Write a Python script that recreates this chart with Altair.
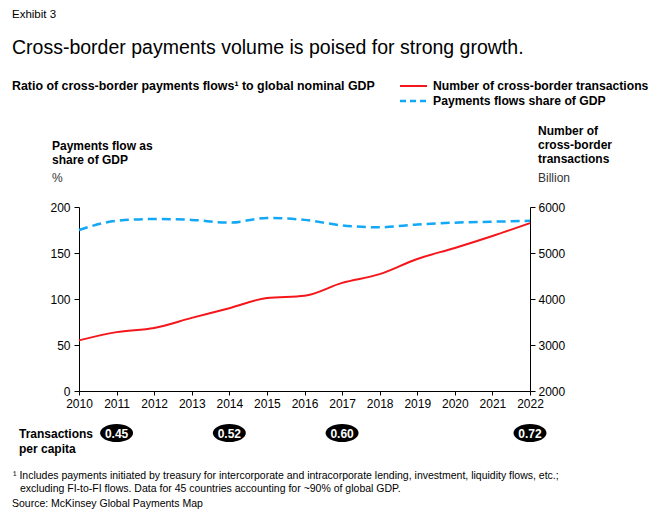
import altair as alt
import pandas as pd

years = list(range(2010, 2023))
share_gdp = [175, 185, 187, 186, 183, 188, 186, 180, 178, 181, 183, 184, 185]
transactions = [3100, 3280, 3370, 3590, 3800, 4020, 4070, 4350, 4540, 4870, 5110, 5370, 5650]

pill_years = [2011, 2014, 2017, 2022]
pill_values = ["0.45", "0.52", "0.60", "0.72"]

left_ticks = [0, 50, 100, 150, 200]
right_ticks = [2000, 3000, 4000, 5000, 6000]

FONT = "Liberation Sans"
RED = "#f5161b"
BLUE = "#12a8f5"

df = pd.DataFrame({"year": years, "share": share_gdp, "tx": transactions})
pills = pd.DataFrame({"year": pill_years, "label": pill_values})

W, H = 451, 184

x_enc = alt.X("year:Q", scale=alt.Scale(domain=[2010, 2022], nice=False),
              axis=alt.Axis(values=years, format="d", title=None, grid=False,
                            labelFontSize=12, labelColor="#000", tickColor="#000",
                            domainColor="#000", tickSize=4, labelPadding=3,
                            labelFont=FONT, labelFlush=False, labelOverlap=False))

blue = alt.Chart(df).mark_line(color=BLUE, strokeWidth=2.5, strokeDash=[9, 5],
                               interpolate="monotone").encode(
    x=x_enc,
    y=alt.Y("share:Q", scale=alt.Scale(domain=[0, 200], nice=False),
            axis=alt.Axis(values=left_ticks, title=None, grid=False, orient="left",
                          labelFontSize=12, labelColor="#000", tickColor="#000",
                          domainColor="#000", tickSize=5, labelPadding=4, labelFont=FONT))
)

red = alt.Chart(df).mark_line(color=RED, strokeWidth=2,
                              interpolate="monotone").encode(
    x=x_enc,
    y=alt.Y("tx:Q", scale=alt.Scale(domain=[2000, 6000], nice=False),
            axis=alt.Axis(values=right_ticks, format="d", title=None, grid=False, orient="right",
                          labelFontSize=12, labelColor="#000", tickColor="#000",
                          domainColor="#000", tickSize=5, labelPadding=3, labelFont=FONT))
)

ellipse = "M-1,0 A1,0.55 0 1,1 1,0 A1,0.55 0 1,1 -1,0 Z"
pill_shape = alt.Chart(pills).mark_point(shape=ellipse, filled=True, color="#000",
                                         opacity=1, size=33 * 33).encode(
    x=x_enc, y=alt.value(226))
pill_text = alt.Chart(pills).mark_text(color="#fff", fontSize=12, fontWeight="bold",
                                       font=FONT, baseline="middle").encode(
    x=x_enc, y=alt.value(226.5), text="label:N")


def txt(s, x, y, size=11, weight="normal", color="#000", align="left"):
    return alt.Chart(pd.DataFrame({"t": [s]})).mark_text(
        fontSize=size, fontWeight=weight, color=color, font=FONT,
        align=align, baseline="middle").encode(
        x=alt.value(x), y=alt.value(y), text="t:N")


OX, OY = 79, 207
texts = [
    txt("Exhibit 3", 12 - OX, 15 - OY, size=11.5),
    txt("Cross-border payments volume is poised for strong growth.", 12 - OX, 48 - OY, size=19.5),
    txt("Ratio of cross-border payments flows¹ to global nominal GDP", 12 - OX, 86 - OY,
        size=12.4, weight="bold"),
    txt("Number of cross-border transactions", 433 - OX, 86 - OY, size=12.2, weight="bold"),
    txt("Payments flows share of GDP", 433 - OX, 101 - OY, size=12.2, weight="bold"),
    txt("Payments flow as", 52 - OX, 146 - OY, size=12, weight="bold"),
    txt("share of GDP", 52 - OX, 160 - OY, size=12, weight="bold"),
    txt("%", 52 - OX, 178 - OY, size=12, color="#333"),
    txt("Number of", 538 - OX, 131 - OY, size=12, weight="bold"),
    txt("cross-border", 538 - OX, 145 - OY, size=12, weight="bold"),
    txt("transactions", 538 - OX, 159 - OY, size=12, weight="bold"),
    txt("Billion", 538 - OX, 178 - OY, size=12, color="#333"),
    txt("Transactions", 19 - OX, 434 - OY, size=12, weight="bold"),
    txt("per capita", 19 - OX, 449 - OY, size=12, weight="bold"),
    txt("¹ Includes payments initiated by treasury for intercorporate and intracorporate lending, investment, liquidity flows, etc.;",
        13 - OX, 476 - OY, size=10.5),
    txt("excluding FI-to-FI flows. Data for 45 countries accounting for ~90% of global GDP.",
        20 - OX, 489 - OY, size=10.5),
    txt("Source: McKinsey Global Payments Map", 12 - OX, 504 - OY, size=10.5),
]

leg_red = alt.Chart(pd.DataFrame({"a": [0]})).mark_rule(color=RED, strokeWidth=2).encode(
    x=alt.value(400 - OX), x2=alt.value(427 - OX), y=alt.value(86 - OY))
leg_blue = alt.Chart(pd.DataFrame({"a": [0]})).mark_rule(color=BLUE, strokeWidth=2.5,
                                                          strokeDash=[6, 4]).encode(
    x=alt.value(400 - OX), x2=alt.value(427 - OX), y=alt.value(101 - OY))

chart = alt.layer(blue, red, pill_shape, pill_text, leg_red, leg_blue, *texts).resolve_scale(
    y="independent"
).properties(
    width=W, height=H,
    autosize=alt.AutoSizeParams(type="none"),
    padding={"left": OX, "top": OY, "right": 651 - OX - W, "bottom": 510 - OY - H},
    background="#ffffff",
).configure_view(stroke=None).configure_axisX(labelOverlap=False)

chart.save("out.html", embed_options={"renderer": "svg", "actions": False})
